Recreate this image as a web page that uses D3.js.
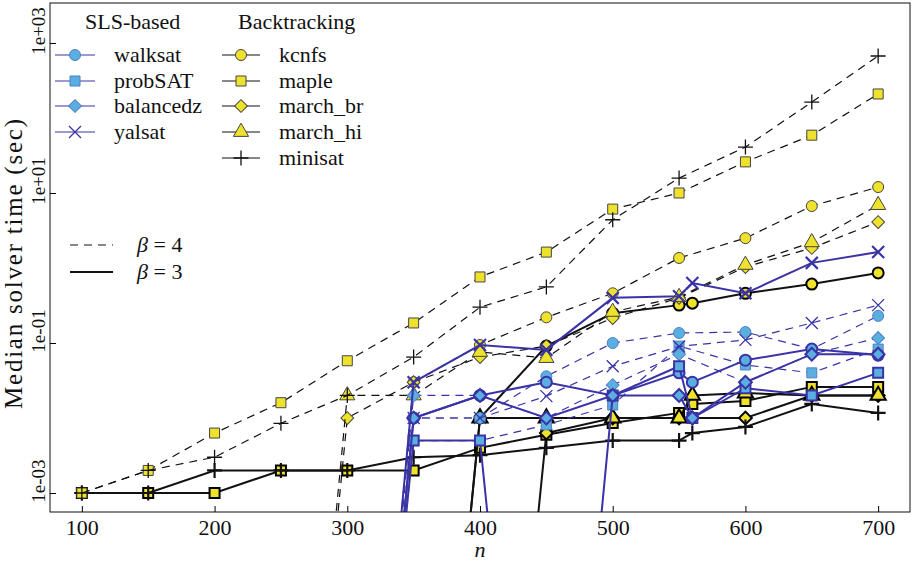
<!DOCTYPE html>
<html>
<head>
<meta charset="utf-8">
<script src="https://cdn.jsdelivr.net/npm/d3@7"></script>
<style>
body { margin: 0; background: #fff; }
svg text { font-family: "Liberation Serif", "DejaVu Serif", "Times New Roman", Times, serif; fill: #111; }
</style>
</head>
<body>
<div class="graph"></div>
<script>

// problem sizes n (560 only run for beta = 3)
var sizes = [100, 150, 200, 250, 300, 350, 400, 450, 500, 550, 560, 600, 650, 700];

// median solver time (sec); 0 = under timer resolution, null = not run
// backtracking, beta = 4
var kcnfs4    = [0, 0, 0, 0, 0, 0.03, 0.094, 0.22, 0.46, 1.36, null, 2.5, 6.7, 12];
var maple4    = [0.001, 0.002, 0.0063, 0.016, 0.058, 0.185, 0.76, 1.63, 6.1, 10, null, 26, 59, 209];
var marchbr4  = [0, 0, 0, 0, 0.01, 0.03, 0.065, 0.091, 0.215, 0.40, null, 1.03, 1.85, 4.1];
var marchhi4  = [0, 0, 0, 0, 0.02, 0.02, 0.076, 0.063, 0.26, 0.41, null, 1.1, 2.2, 6.9];
var minisat4  = [0.001, 0.002, 0.003, 0.0085, 0.02, 0.065, 0.30, 0.56, 4.4, 15.8, null, 41, 163, 671];
// backtracking, beta = 3
var kcnfs3    = [0, 0, 0, 0, 0, 0, 0.01, 0.091, 0.25, 0.32, 0.34, 0.46, 0.61, 0.86];
var maple3    = [0.001, 0.001, 0.001, 0.002, 0.002, 0.002, 0.004, 0.006, 0.0086, 0.0117, 0.0154, 0.0169, 0.026, 0.026];
var marchbr3  = [0, 0, 0, 0, 0, 0, 0, 0.0063, 0.01, 0.01, 0.01, 0.01, 0.02, 0.02];
var marchhi3  = [0, 0, 0, 0, 0, 0, 0.01, 0.01, 0.01, 0.01, 0.02, 0.0215, 0.02, 0.02];
var minisat3  = [0.001, 0.001, 0.002, 0.002, 0.002, 0.003, 0.0032, 0.004, 0.005, 0.005, 0.0063, 0.0076, 0.0154, 0.0117];
// SLS, beta = 4
var walksat4  = [0, 0, 0, 0, 0, 0.01, 0.01, 0.036, 0.1, 0.136, null, 0.14, 0.083, 0.23];
var probsat4  = [0, 0, 0, 0, 0, 0.005, 0.005, 0.0081, 0.0149, 0.091, null, 0.051, 0.04, 0.083];
var balanced4 = [0, 0, 0, 0, 0, 0.02, 0.02, 0.01, 0.0275, 0.071, null, 0.03, 0.071, 0.117];
var yalsat4   = [0, 0, 0, 0, 0, 0.01, 0.01, 0.0196, 0.049, 0.09, null, 0.11, 0.185, 0.32];
// SLS, beta = 3
var walksat3  = [0, 0, 0, 0, 0, 0.01, 0.02, 0.03, 0.02, 0.04, 0.03, 0.059, 0.083, 0.069];
var probsat3  = [0, 0, 0, 0, 0, 0.005, 0.005, 0, 0.02, 0.049, 0.01, 0.025, 0.02, 0.04];
var balanced3 = [0, 0, 0, 0, 0, 0.01, 0.02, 0.01, 0.02, 0.02, 0.01, 0.03, 0.071, 0.071];
var yalsat3   = [0, 0, 0, 0, 0, 0.03, 0.094, 0.081, 0.40, 0.42, 0.63, 0.46, 1.17, 1.63];

var xTicks = [100, 200, 300, 400, 500, 600, 700];
var yTicks = [1e-3, 1e-1, 1e1, 1e3];
var yTickLabels = ["1e-03", "1e-01", "1e+01", "1e+03"];

var slsNames = ["walksat", "probSAT", "balancedz", "yalsat"];
var btNames = ["kcnfs", "maple", "march_br", "march_hi", "minisat"];

//prepare SVG

var svgWidth = 912;
var svgHeight = 563;
var plotL = 50, plotR = 910, plotT = 3, plotB = 512;

var blue = "#3a33a6";
var lightBlue = "#5aafe0";
var yellow = "#efe22d";

var svg = d3.select("div.graph")
	.append("svg")
	.attr("width", svgWidth)
	.attr("height", svgHeight);

var x = d3.scaleLinear().domain([76, 724]).range([plotL, plotR]);
var y = d3.scaleLog().domain([Math.pow(10, -3.253), Math.pow(10, 3.533)]).range([plotB, plotT]);
var zeroFloor = 1e-11; // log axis clips non-positive values far below

svg.append("clipPath").attr("id", "plotclip")
	.append("rect")
	.attr("x", plotL).attr("y", plotT)
	.attr("width", plotR - plotL).attr("height", plotB - plotT);

function shapePath(shape) {
	if (shape == "circle") return d3.symbol(d3.symbolCircle, 95)();
	if (shape == "square") return d3.symbol(d3.symbolSquare, 100)();
	if (shape == "diamond") return d3.symbol(d3.symbolSquare, 82)();
	if (shape == "triangle") return d3.symbol(d3.symbolTriangle, 100)();
	if (shape == "plus") return "M-7.5,0H7.5M0,-7.5V7.5";
	return "M-6,-6L6,6M-6,6L6,-6";
}

function drawMarker(g, shape, cx, cy, st) {
	var open = (shape == "plus" || shape == "times");
	g.append("path")
		.attr("d", shapePath(shape))
		.attr("transform", "translate(" + cx + "," + cy + ")" + (shape == "diamond" ? " rotate(45)" : ""))
		.attr("fill", open ? "none" : st.fill)
		.attr("stroke", open ? st.line : st.edge)
		.attr("stroke-width", open ? st.openWidth : st.edgeWidth);
}

function styleFor(group, beta) {
	var sls = group == "sls";
	return {
		line: sls ? blue : "#111",
		fill: sls ? lightBlue : yellow,
		edge: sls ? (beta == 3 ? blue : "#4f7fc6") : (beta == 3 ? "#000" : "#444"),
		edgeWidth: beta == 3 ? 2 : 1,
		openWidth: beta == 3 ? 2.2 : 1.3,
		lineWidth: beta == 3 ? 2 : 1.2,
		dash: beta == 3 ? null : "8,6"
	};
}

// drawing order: backtracking first, SLS on top
var series = [
	{ vals: kcnfs3, shape: "circle", group: "bt", beta: 3 },
	{ vals: maple3, shape: "square", group: "bt", beta: 3 },
	{ vals: marchbr3, shape: "diamond", group: "bt", beta: 3 },
	{ vals: marchhi3, shape: "triangle", group: "bt", beta: 3 },
	{ vals: minisat3, shape: "plus", group: "bt", beta: 3 },
	{ vals: kcnfs4, shape: "circle", group: "bt", beta: 4 },
	{ vals: maple4, shape: "square", group: "bt", beta: 4 },
	{ vals: marchbr4, shape: "diamond", group: "bt", beta: 4 },
	{ vals: marchhi4, shape: "triangle", group: "bt", beta: 4 },
	{ vals: minisat4, shape: "plus", group: "bt", beta: 4 },
	{ vals: walksat4, shape: "circle", group: "sls", beta: 4 },
	{ vals: probsat4, shape: "square", group: "sls", beta: 4 },
	{ vals: balanced4, shape: "diamond", group: "sls", beta: 4 },
	{ vals: yalsat4, shape: "times", group: "sls", beta: 4 },
	{ vals: walksat3, shape: "circle", group: "sls", beta: 3 },
	{ vals: probsat3, shape: "square", group: "sls", beta: 3 },
	{ vals: balanced3, shape: "diamond", group: "sls", beta: 3 },
	{ vals: yalsat3, shape: "times", group: "sls", beta: 3 }
];

var gData = svg.append("g").attr("clip-path", "url(#plotclip)");

var line = d3.line()
	.x(function(d) { return x(d.n); })
	.y(function(d) { return y(d.v > 0 ? d.v : zeroFloor); });

series.forEach(function(s) {
	var st = styleFor(s.group, s.beta);
	var pts = sizes.map(function(n, i) { return { n: n, v: s.vals[i] }; })
		.filter(function(d) { return d.v !== null; });
	gData.append("path")
		.datum(pts)
		.attr("d", line)
		.attr("fill", "none")
		.attr("stroke", st.line)
		.attr("stroke-width", st.lineWidth)
		.attr("stroke-dasharray", st.dash);
	var gm = gData.append("g");
	pts.filter(function(d) { return d.v > 0; }).forEach(function(d) {
		drawMarker(gm, s.shape, x(d.n), y(d.v), st);
	});
});

// axes
svg.append("rect")
	.attr("x", plotL).attr("y", plotT)
	.attr("width", plotR - plotL).attr("height", plotB - plotT)
	.attr("fill", "none").attr("stroke", "#111").attr("stroke-width", 1);

var xAxis = d3.axisBottom(x).tickValues(xTicks).tickSizeInner(-6).tickSizeOuter(0).tickPadding(7);
var gx = svg.append("g").attr("transform", "translate(0," + plotB + ")").call(xAxis);
gx.select(".domain").remove();
gx.attr("font-family", null).attr("font-size", null);
gx.selectAll("text").style("font-size", "22px").attr("fill", "#111");

var yAxis = d3.axisLeft(y).tickValues(yTicks).tickSizeInner(-6).tickSizeOuter(0).tickFormat("");
var gy = svg.append("g").attr("transform", "translate(" + plotL + ",0)").call(yAxis);
gy.select(".domain").remove();

svg.append("g").selectAll("text")
	.data(yTicks)
	.enter()
	.append("text")
	.attr("transform", function(d) { return "translate(45," + (y(d) - 12) + ") rotate(-90)"; })
	.attr("text-anchor", "middle")
	.style("font-size", "19px")
	.text(function(d, i) { return yTickLabels[i]; });

svg.append("text")
	.attr("transform", "translate(22,264) rotate(-90)")
	.attr("text-anchor", "middle")
	.attr("textLength", 290)
	.attr("lengthAdjust", "spacing")
	.style("font-size", "25px")
	.text("Median solver time (sec)");

svg.append("text")
	.attr("x", x(400)).attr("y", 557)
	.attr("text-anchor", "middle")
	.style("font-size", "22px")
	.style("font-style", "italic")
	.text("n");

// legend
var gLeg = svg.append("g");
gLeg.append("text").attr("x", 85).attr("y", 29).style("font-size", "22px").text("SLS-based");
gLeg.append("text").attr("x", 238).attr("y", 29).style("font-size", "22px").text("Backtracking");

var rowY = [55, 81, 106, 132, 158];
var slsShapes = ["circle", "square", "diamond", "times"];
var btShapes = ["circle", "square", "diamond", "triangle", "plus"];

function legendRow(x0, x1, yy, shape, label, group) {
	var st = styleFor(group, 4);
	gLeg.append("line").attr("x1", x0).attr("x2", x1).attr("y1", yy).attr("y2", yy)
		.attr("stroke", st.line).attr("stroke-width", 1);
	drawMarker(gLeg, shape, (x0 + x1) / 2, yy, st);
	gLeg.append("text").attr("x", x1 + 19).attr("y", yy + 7).style("font-size", "22px").text(label);
}

slsNames.forEach(function(name, i) { legendRow(55, 95, rowY[i], slsShapes[i], name, "sls"); });
btNames.forEach(function(name, i) { legendRow(222, 260, rowY[i], btShapes[i], name, "bt"); });

var betaRows = [{ b: 4, yy: 245 }, { b: 3, yy: 272 }];
betaRows.forEach(function(r) {
	var st = styleFor("bt", r.b);
	gLeg.append("line").attr("x1", 70).attr("x2", 113).attr("y1", r.yy).attr("y2", r.yy)
		.attr("stroke", "#111").attr("stroke-width", st.lineWidth)
		.attr("stroke-dasharray", st.dash);
	var t = gLeg.append("text").attr("x", 137).attr("y", r.yy + 7).style("font-size", "22px");
	t.append("tspan").style("font-style", "italic").text("β");
	t.append("tspan").text(" = " + r.b);
});

</script>
</body>
</html>
